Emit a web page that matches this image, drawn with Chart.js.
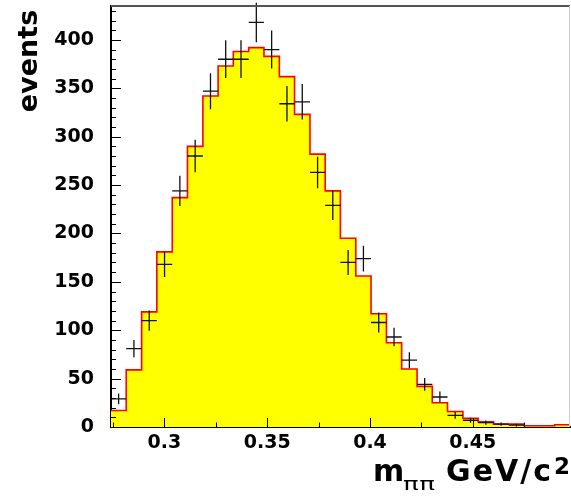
<!DOCTYPE html>
<html><head><meta charset="utf-8">
<script src="https://cdn.jsdelivr.net/npm/chart.js@4.4.1/dist/chart.umd.min.js"></script>
<style>html,body{margin:0;padding:0;background:#fff;overflow:hidden}#wrap{width:571px;height:501px;position:relative}</style>
</head><body><div id="wrap"><canvas id="c" width="571" height="501"></canvas></div>
<script>
// bin edges of the m_pipi histogram (GeV/c^2)
const binEdges = [0.2740,0.2814,0.2889,0.2963,0.3038,0.3112,0.3187,0.3261,0.3335,0.3410,
  0.3484,0.3559,0.3633,0.3708,0.3782,0.3856,0.3931,0.4005,0.4080,0.4154,
  0.4229,0.4303,0.4377,0.4452,0.4526,0.4601,0.4675,0.4750,0.4824,0.4898,0.4973];
// simulated (filled yellow) histogram contents, one per bin
const mcCounts = [17,59,119,181,237,290,342,373,388,392,383,362,323,282,244,195,156,117,87,60,42,25,16,9,5.5,3,3,1.3,1.3,2.4];
// measured data points (crosses), one per bin from the first
const dataCounts = [29,81,110,168,244,280,347,380,380,418,390,334,336,263,229,170,174,108,93,69,44,31,12,7,4.5,3,2];
const dataErrors = [5.5,9,10.5,13,15.6,16.7,18.6,19.5,19.5,20.4,19.7,18.3,18.3,16.2,15.1,13,13.2,10.4,9.6,8.3,6.6,5.6,3.5,2.6,2.1,1.7,1.4];
const xTickValues = [0.3,0.35,0.4,0.45];
const xTickLabels = ['0.3','0.35','0.4','0.45'];
const yTickValues = [0,50,100,150,200,250,300,350,400];
const yTickLabels = ['0','50','100','150','200','250','300','350','400'];
const xRange = [0.2740,0.4973];
const yRange = [0,435];

// step line: each bin value at its low edge, plus the closing high edge
const stepPoints = mcCounts.map((v,i)=>({x:binEdges[i],y:v}));
stepPoints.push({x:binEdges[binEdges.length-1], y:mcCounts[mcCounts.length-1]});

const FONT = 'DejaVu Sans';

const decor = {
  id:'decor',
  afterDatasetsDraw(chart){
    const {ctx, chartArea:a, scales:{x,y}} = chart;
    ctx.save();
    // error-bar crosses
    ctx.strokeStyle = '#111';
    ctx.lineWidth = 1.3;
    ctx.beginPath();
    dataCounts.forEach((v,i)=>{
      const x0 = x.getPixelForValue(binEdges[i]);
      const x1 = x.getPixelForValue(binEdges[i+1]);
      const xc = x.getPixelForValue((binEdges[i]+binEdges[i+1])/2);
      const yc = y.getPixelForValue(v);
      const yt = y.getPixelForValue(v+dataErrors[i]);
      const yb = y.getPixelForValue(Math.max(0,v-dataErrors[i]));
      ctx.moveTo(x0,yc); ctx.lineTo(x1,yc);
      ctx.moveTo(xc,yt); ctx.lineTo(xc,yb);
    });
    ctx.stroke();
    // inward ticks
    ctx.strokeStyle = '#000';
    ctx.lineWidth = 1;
    ctx.beginPath();
    for (let v=0.275; v<xRange[1]; v+=0.025){
      const px = Math.round(x.getPixelForValue(v))+0.5;
      const major = Math.abs(Math.round(v/0.05)*0.05 - v) < 1e-6;
      ctx.moveTo(px,a.bottom); ctx.lineTo(px,a.bottom-(major?9:4.5));
    }
    for (let v=0; v<=yRange[1]; v+=10){
      const py = Math.round(y.getPixelForValue(v))+0.5;
      const major = v%50===0;
      ctx.moveTo(a.left,py); ctx.lineTo(a.left+(major?10:5),py);
    }
    ctx.stroke();
    // frame
    ctx.strokeStyle = '#555'; ctx.lineWidth = 2;
    ctx.beginPath(); ctx.moveTo(a.left,a.top); ctx.lineTo(a.right,a.top); ctx.stroke();
    ctx.strokeStyle = '#cfcfcf'; ctx.lineWidth = 1;
    ctx.beginPath(); ctx.moveTo(a.right-0.5,a.top); ctx.lineTo(a.right-0.5,a.bottom); ctx.stroke();
    // axis titles
    ctx.fillStyle = '#000';
    ctx.save();
    ctx.translate(a.left-74.5, a.top+55);
    ctx.rotate(-Math.PI/2);
    ctx.font = 'bold 27px "'+FONT+'"';
    ctx.textAlign='center'; ctx.textBaseline='alphabetic';
    ctx.fillText('events',0,0);
    ctx.restore();
    const base = a.bottom+54;
    ctx.textBaseline='alphabetic';
    ctx.font = 'bold 23px "'+FONT+'"';
    ctx.textAlign='right';
    ctx.fillText('2', a.right, base-7);
    ctx.font = 'bold 30px "'+FONT+'"';
    try{ ctx.letterSpacing='2px'; }catch(e){}
    ctx.fillText('GeV/c', a.right-17, base);
    try{ ctx.letterSpacing='0px'; }catch(e){}
    ctx.textAlign='left';
    ctx.fillText('m', a.left+262, base);
    ctx.font = '18px "'+FONT+'"';
    ctx.save();
    ctx.translate(a.left+292, base+9);
    ctx.scale(1.45,1);
    ctx.fillText('π',0,0);
    ctx.fillText('π',11.2,0);
    ctx.restore();
    ctx.restore();
  }
};

new Chart(document.getElementById('c'),{
  type:'line',
  data:{datasets:[{
    data:stepPoints,
    stepped:'before',
    fill:'origin',
    backgroundColor:'#ffff00',
    borderColor:'#ff0000',
    borderWidth:1.6,
    pointRadius:0,
    tension:0
  }]},
  options:{
    responsive:false,
    animation:false,
    events:[],
    layout:{padding:{top:6,right:1,left:0,bottom:0}},
    plugins:{legend:{display:false},tooltip:{enabled:false},title:{display:false}},
    scales:{
      x:{
        type:'linear', min:xRange[0], max:xRange[1],
        grid:{display:false},
        border:{display:true,color:'#000',width:2},
        afterBuildTicks(s){ s.ticks = xTickValues.map(v=>({value:v})); },
        afterFit(s){ s.height = 74; s.paddingLeft = 0; s.paddingRight = 0; },
        ticks:{
          autoSkip:false, maxRotation:0, padding:-3, color:'#000',
          font:{family:FONT,weight:'bold',size:19},
          callback(v){ const i=xTickValues.findIndex(t=>Math.abs(t-v)<1e-9); return i>=0?xTickLabels[i]:''; }
        }
      },
      y:{
        type:'linear', min:yRange[0], max:yRange[1],
        grid:{display:false},
        border:{display:true,color:'#000',width:2},
        afterBuildTicks(s){ s.ticks = yTickValues.map(v=>({value:v})); },
        afterFit(s){ s.width = 111; s.paddingTop = 0; s.paddingBottom = 0; },
        ticks:{
          autoSkip:false, padding:9, color:'#000',
          font:{family:FONT,weight:'bold',size:19},
          callback(v){ const i=yTickValues.indexOf(v); return i>=0?yTickLabels[i]:''; }
        }
      }
    }
  },
  plugins:[decor]
});
</script></body></html>
